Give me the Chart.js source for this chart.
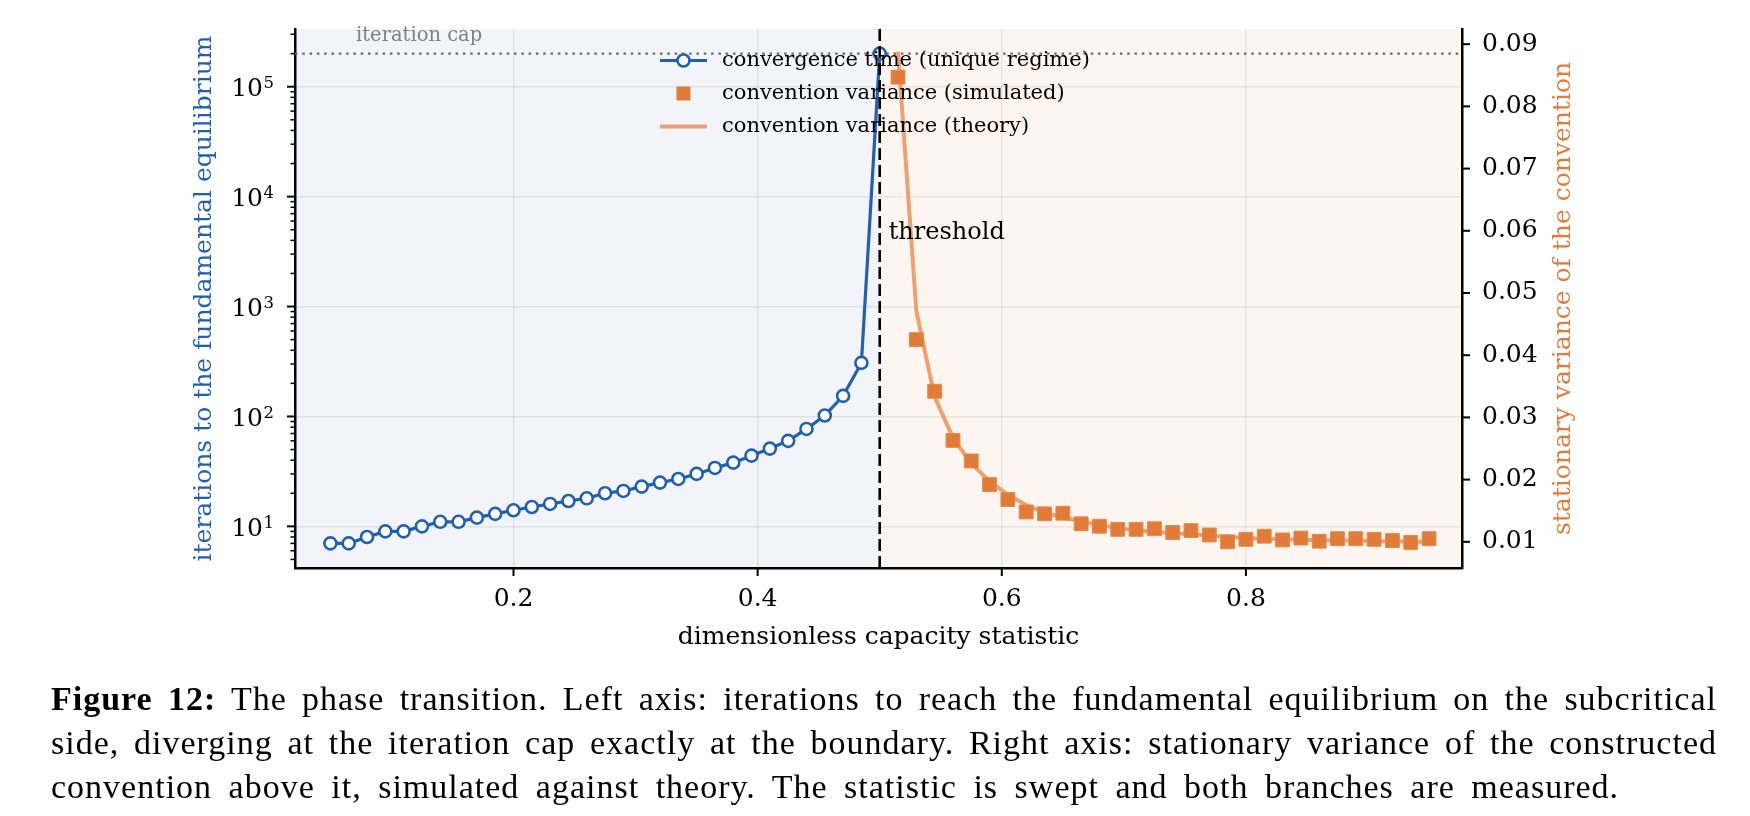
<!DOCTYPE html>
<html><head><meta charset="utf-8">
<script src="https://cdn.jsdelivr.net/npm/chart.js@4.4.1/dist/chart.umd.min.js"></script>
<style>
html,body{margin:0;padding:0;background:#fff;}
#wrap{position:relative;width:1750px;height:816px;overflow:hidden;}
#c{position:absolute;left:0;top:0;}
#cap{position:absolute;left:51px;top:677px;width:1666px;font-family:'Liberation Serif',serif;font-size:34px;line-height:44px;letter-spacing:1px;color:#000;}
#cap .j{text-align:justify;text-align-last:justify;}
#cap .l3{word-spacing:7px;}
</style></head><body>
<div id="wrap">
<canvas id="c" width="1750" height="816"></canvas>
<div id="cap">
<div class="j"><b>Figure 12:</b> The phase transition. Left axis: iterations to reach the fundamental equilibrium on the subcritical</div>
<div class="j">side, diverging at the iteration cap exactly at the boundary. Right axis: stationary variance of the constructed</div>
<div class="l3">convention above it, simulated against theory. The statistic is swept and both branches are measured.</div>
</div>
</div>
<script>
// ---------- data ----------
const subX = [0.05,0.065,0.08,0.095,0.11,0.125,0.14,0.155,0.17,0.185,0.2,0.215,0.23,0.245,0.26,0.275,0.29,0.305,0.32,0.335,0.35,0.365,0.38,0.395,0.41,0.425,0.44,0.455,0.47,0.485,0.5];
const convergenceIters = [7,7,8,9,9,10,11,11,12,13,14,15,16,17,18,20,21,23,25,27,30,34,38,44,51,60,77,102,154,307,200000];
const superX = [0.515,0.53,0.545,0.56,0.575,0.59,0.605,0.62,0.635,0.65,0.665,0.68,0.695,0.71,0.725,0.74,0.755,0.77,0.785,0.8,0.815,0.83,0.845,0.86,0.875,0.89,0.905,0.92,0.935,0.95];
const varianceSimulated = [0.0847,0.0425,0.0342,0.0263,0.0230,0.0192,0.0168,0.0148,0.0145,0.0146,0.0129,0.0125,0.0120,0.0120,0.0121,0.0115,0.0118,0.0111,0.0100,0.0104,0.0109,0.0103,0.0106,0.0101,0.0105,0.0105,0.0104,0.0102,0.0099,0.0105];
const varianceTheory = [0.0888,0.0471,0.0333,0.0267,0.0226,0.0197,0.0176,0.0159,0.0147,0.0139,0.0133,0.0127,0.0122,0.0118,0.0116,0.0114,0.0112,0.0110,0.0108,0.0106,0.0105,0.0104,0.0103,0.0103,0.0102,0.0102,0.0101,0.0101,0.0100,0.0100];
const xTickValues = [0.2,0.4,0.6,0.8];
const rightTickValues = [0.01,0.02,0.03,0.04,0.05,0.06,0.07,0.08,0.09];
const leftDecades = [1,2,3,4,5];
const iterationCap = 200000;
const thresholdX = 0.5;
const legendLabels = ['convergence time (unique regime)','convention variance (simulated)','convention variance (theory)'];

// ---------- styles ----------
const BLUE = '#2160ad', ORANGE = '#e07b39', THEORY = '#eda070';
const FONT = '"DejaVu Serif", serif';
Chart.defaults.font.family = FONT;
Chart.defaults.color = '#000';

const isDecade = v => Math.abs(Math.log10(v) - Math.round(Math.log10(v))) < 1e-9;

const decor = {
  id: 'decor',
  beforeDraw(chart) {
    const {ctx, chartArea: a, scales: {x}} = chart;
    const t = x.getPixelForValue(thresholdX);
    ctx.save();
    ctx.fillStyle = '#f2f4fa';
    ctx.fillRect(a.left, a.top, t - a.left, a.bottom - a.top);
    ctx.fillStyle = '#fdf6f0';
    ctx.fillRect(t, a.top, a.right - t, a.bottom - a.top);
    ctx.restore();
  },
  beforeDatasetsDraw(chart) {
    const {ctx, chartArea: a, scales: {y}} = chart;
    const cy = y.getPixelForValue(iterationCap);
    ctx.save();
    ctx.strokeStyle = '#6a6a6a';
    ctx.lineWidth = 2.3;
    ctx.setLineDash([2.5, 4.8]);
    ctx.beginPath(); ctx.moveTo(a.left, cy); ctx.lineTo(a.right, cy); ctx.stroke();
    ctx.restore();
  },
  afterDatasetsDraw(chart) {
    const {ctx, chartArea: a, scales: {x, y}} = chart;
    const t = x.getPixelForValue(thresholdX);
    ctx.save();
    // threshold line
    ctx.strokeStyle = '#000'; ctx.lineWidth = 2.6; ctx.setLineDash([12, 5]);
    ctx.beginPath(); ctx.moveTo(t, a.top); ctx.lineTo(t, a.bottom); ctx.stroke();
    ctx.setLineDash([]);
    // annotations
    ctx.fillStyle = '#000'; ctx.font = '24px ' + FONT; ctx.textAlign = 'left'; ctx.textBaseline = 'middle';
    ctx.fillText('threshold', t + 9, y.getPixelForValue(4700));
    ctx.fillStyle = '#808080'; ctx.font = '19.5px ' + FONT;
    ctx.fillText('iteration cap', x.getPixelForValue(0.071), y.getPixelForValue(iterationCap) - 18);
    // legend
    const lx0 = 660, lx1 = 707, lm = 683.5, tx = 722, rows = [60.5, 93.5, 126.5];
    ctx.lineWidth = 3.2; ctx.strokeStyle = BLUE;
    ctx.beginPath(); ctx.moveTo(lx0, rows[0]); ctx.lineTo(lx1, rows[0]); ctx.stroke();
    ctx.beginPath(); ctx.arc(lm, rows[0], 6, 0, Math.PI * 2);
    ctx.fillStyle = '#fff'; ctx.fill(); ctx.lineWidth = 2.6; ctx.stroke();
    ctx.fillStyle = ORANGE; ctx.fillRect(lm - 7, rows[1] - 7, 14, 14);
    ctx.strokeStyle = THEORY; ctx.lineWidth = 4;
    ctx.beginPath(); ctx.moveTo(lx0, rows[2]); ctx.lineTo(lx1, rows[2]); ctx.stroke();
    ctx.fillStyle = '#000'; ctx.font = '21px ' + FONT;
    legendLabels.forEach((s, i) => ctx.fillText(s, tx, rows[i]));
    ctx.restore();
  },
  afterDraw(chart) {
    const {ctx, chartArea: a, scales: {x, y, y2}} = chart;
    ctx.save();
    ctx.strokeStyle = '#000';
    x.ticks.forEach(tk => { const p = x.getPixelForValue(tk.value); ctx.lineWidth = 2;
      ctx.beginPath(); ctx.moveTo(p, a.bottom); ctx.lineTo(p, a.bottom + 8); ctx.stroke(); });
    y.ticks.forEach(tk => { const p = y.getPixelForValue(tk.value); const maj = isDecade(tk.value);
      ctx.lineWidth = maj ? 2 : 1.5; const L = maj ? 8 : 4.5;
      ctx.beginPath(); ctx.moveTo(a.left - L, p); ctx.lineTo(a.left, p); ctx.stroke();
      if (maj) {
        const e = String(Math.round(Math.log10(tk.value)));
        const right = a.left - 21;
        ctx.fillStyle = '#000'; ctx.textAlign = 'right'; ctx.textBaseline = 'alphabetic';
        ctx.font = '16.5px ' + FONT;
        const ew = ctx.measureText(e).width;
        ctx.fillText(e, right, p + 1.5);
        ctx.font = '25px ' + FONT;
        ctx.fillText('10', right - ew - 0.5, p + 9.5);
      } });
    y2.ticks.forEach(tk => { const p = y2.getPixelForValue(tk.value); ctx.lineWidth = 2;
      ctx.beginPath(); ctx.moveTo(a.right, p); ctx.lineTo(a.right + 8, p); ctx.stroke(); });
    // right axis title (reads bottom-to-top)
    ctx.translate(1563, (a.top + a.bottom) / 2);
    ctx.rotate(-Math.PI / 2);
    ctx.fillStyle = ORANGE; ctx.font = '25px ' + FONT; ctx.textAlign = 'center'; ctx.textBaseline = 'middle';
    ctx.fillText('stationary variance of the convention', 0, 0);
    ctx.restore();
  }
};

const gridCol = 'rgba(0,0,0,0.07)';
const noPadV = s => { s.paddingTop = 0; s.paddingBottom = 0; };
new Chart(document.getElementById('c'), {
  type: 'line',
  data: {
    datasets: [
      { label: legendLabels[0], yAxisID: 'y', order: 1,
        data: subX.map((v, i) => ({x: v, y: convergenceIters[i]})),
        borderColor: BLUE, borderWidth: 3.2, pointRadius: 6, pointBorderWidth: 2.6,
        pointBackgroundColor: '#fff', pointBorderColor: BLUE, tension: 0 },
      { label: legendLabels[1], yAxisID: 'y2', order: 2, showLine: false,
        data: superX.map((v, i) => ({x: v, y: varianceSimulated[i]})),
        pointStyle: 'rect', pointRadius: 9.8, pointBackgroundColor: ORANGE,
        pointBorderColor: '#e6884c', pointBorderWidth: 1 },
      { label: legendLabels[2], yAxisID: 'y2', order: 3,
        data: superX.map((v, i) => ({x: v, y: varianceTheory[i]})),
        borderColor: THEORY, borderWidth: 4, pointRadius: 0, tension: 0 }
    ]
  },
  options: {
    responsive: false, animation: false,
    layout: { padding: { top: 29, left: 0, right: 0, bottom: 0 } },
    plugins: { legend: { display: false }, tooltip: { enabled: false } },
    scales: {
      x: { type: 'linear', min: 0.021, max: 0.977,
        afterFit: s => { s.height = 248; s.paddingLeft = 0; s.paddingRight = 0; },
        afterBuildTicks: s => { s.ticks = xTickValues.map(v => ({value: v})); },
        grid: { color: gridCol, lineWidth: 1.5, drawTicks: false },
        border: { display: true, color: '#000', width: 2.5 },
        ticks: { padding: 16, font: { size: 25 }, color: '#000', callback: v => String(v) },
        title: { display: true, text: 'dimensionless capacity statistic', font: { size: 25, lineHeight: 1.2 },
          color: '#000', padding: { top: 0, bottom: 164 } } },
      y: { type: 'logarithmic', position: 'left', min: 4.18, max: 335000,
        afterFit: s => { s.width = 295; noPadV(s); },
        afterBuildTicks: s => { const t = [];
          for (let e = 0; e <= leftDecades[leftDecades.length - 1]; e++)
            for (let m = 1; m <= 9; m++) { const v = m * Math.pow(10, e); if (v >= s.min && v <= s.max) t.push({value: v}); }
          s.ticks = t; },
        grid: { color: c => (c.tick && isDecade(c.tick.value)) ? gridCol : 'rgba(0,0,0,0)', lineWidth: 1.5, drawTicks: false },
        border: { display: true, color: '#000', width: 2.5 },
        ticks: { padding: 21, font: { size: 25 }, color: '#000', autoSkip: false, callback: () => '' },
        title: { display: true, text: 'iterations to the fundamental equilibrium', color: BLUE,
          font: { size: 25, lineHeight: 1.2 }, padding: { top: 189, bottom: 0 } } },
      y2: { type: 'linear', position: 'right', min: 0.00579, max: 0.09244,
        afterFit: s => { s.width = 288; noPadV(s); },
        afterBuildTicks: s => { s.ticks = rightTickValues.map(v => ({value: v})); },
        grid: { drawOnChartArea: false, drawTicks: false },
        border: { display: true, color: '#000', width: 2.5 },
        ticks: { padding: 20, font: { size: 25 }, color: '#000', callback: v => v.toFixed(2) } }
    }
  },
  plugins: [decor]
});
</script>
</body></html>
